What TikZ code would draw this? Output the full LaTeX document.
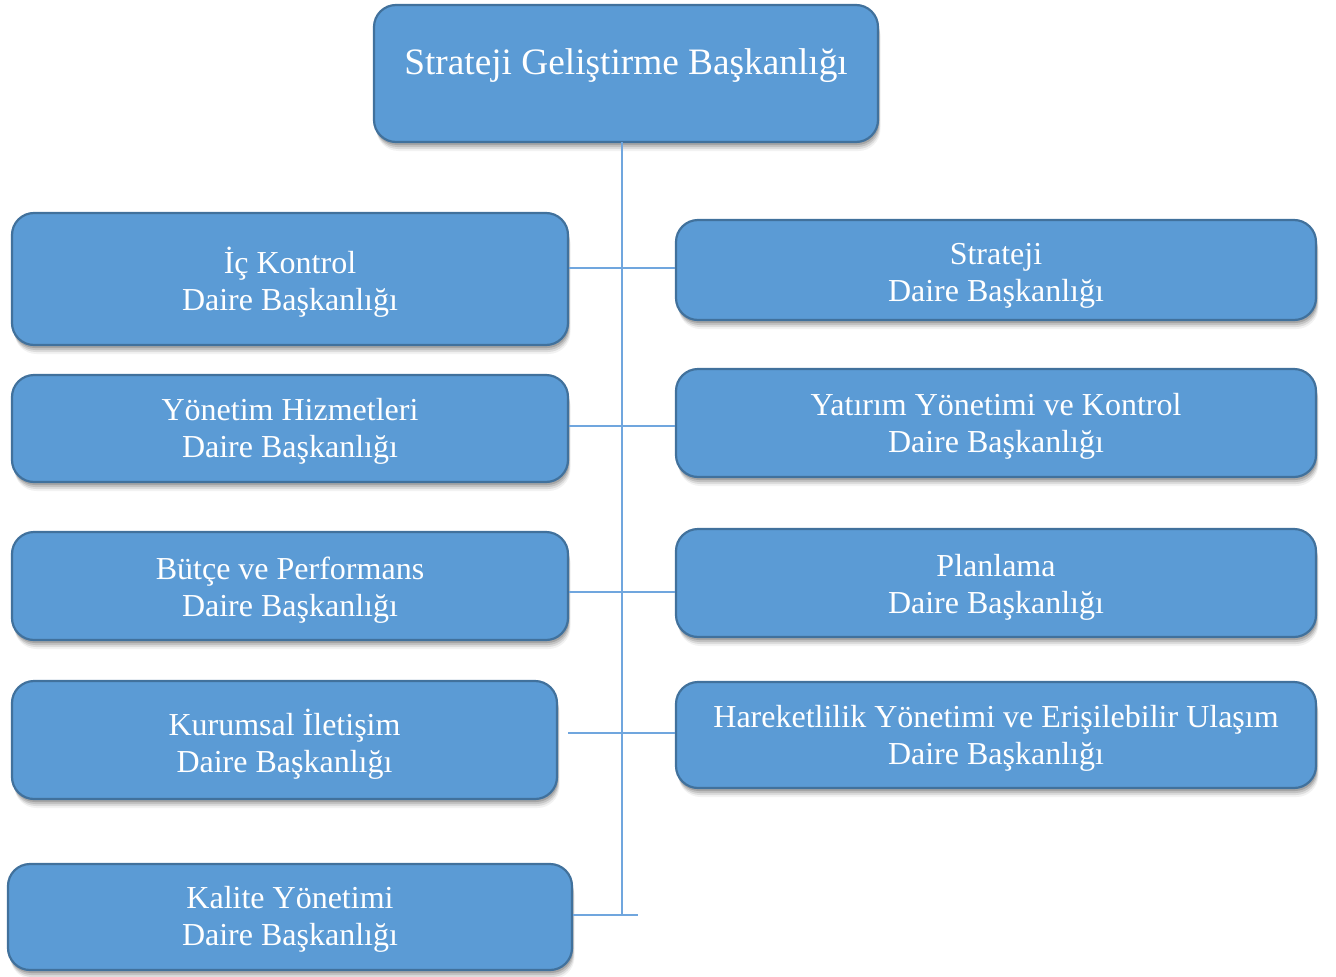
\documentclass[tikz,border=0pt]{standalone}
\usepackage{fontspec}
\setmainfont{Liberation Serif}
\usetikzlibrary{shadows}
\definecolor{boxfill}{HTML}{5B9BD5}
\definecolor{boxline}{HTML}{41719C}
\definecolor{linkc}{RGB}{112,166,222}
\begin{document}
\begin{tikzpicture}[x=1pt,y=-1pt,
  softshadow/.style={
    drop shadow={shadow xshift=1pt,shadow yshift=-3pt,opacity=.15,fill=black},
    drop shadow={shadow xshift=1.5pt,shadow yshift=-5pt,opacity=.12,fill=black},
    drop shadow={shadow xshift=2pt,shadow yshift=-7pt,opacity=.09,fill=black},
    drop shadow={shadow xshift=2.5pt,shadow yshift=-9pt,opacity=.05,fill=black}},
  box/.style={draw=boxline, line width=2.2pt, fill=boxfill, rounded corners=22pt,
    inner sep=0pt, softshadow},
  lbl/.style={text=white, font=\fontsize{32}{37}\selectfont, align=center, inner sep=0pt},
  ttl/.style={text=white, font=\fontsize{37.3}{42}\selectfont, inner sep=0pt},
  link/.style={draw=linkc, line width=1.4pt}]
\useasboundingbox (0,0) rectangle (1336,977);
% top box
\node[box, minimum width=504pt, minimum height=137pt] (top) at (626,73.5) {};
\node[ttl] (toptxt) at (626,66) {Strateji Geliştirme Başkanlığı};
% left column
\node[box, minimum width=556pt, minimum height=132pt] (l1) at (290,279) {};
\node[box, minimum width=556pt, minimum height=107pt] (l2) at (290,428.5) {};
\node[box, minimum width=556pt, minimum height=108pt] (l3) at (290,586) {};
\node[box, minimum width=545pt, minimum height=118pt] (l4) at (284.5,740) {};
\node[box, minimum width=564pt, minimum height=106pt] (l5) at (290,917) {};
% right column
\node[box, minimum width=640pt, minimum height=100pt] (r1) at (996,270) {};
\node[box, minimum width=640pt, minimum height=108pt] (r2) at (996,423) {};
\node[box, minimum width=640pt, minimum height=108pt] (r3) at (996,583) {};
\node[box, minimum width=640pt, minimum height=106pt] (r4) at (996,735) {};
% texts
\node[lbl] (l1t) at (290,282) {İç Kontrol\\Daire Başkanlığı};
\node[lbl] (l2t) at (290,431.5) {Yönetim Hizmetleri\\Daire Başkanlığı};
\node[lbl] (l3t) at (290,590.5) {Bütçe ve Performans\\Daire Başkanlığı};
\node[lbl] (l4t) at (284.5,744) {Kurumsal İletişim\\Daire Başkanlığı};
\node[lbl] (l5t) at (290,919.5) {Kalite Yönetimi\\Daire Başkanlığı};
\node[lbl] (r1t) at (996,275.5) {Strateji\\Daire Başkanlığı};
\node[lbl] (r2t) at (996,426.5) {Yatırım Yönetimi ve Kontrol\\Daire Başkanlığı};
\node[lbl] (r3t) at (996,587.5) {Planlama\\Daire Başkanlığı};
\node[lbl] (r4t) at (996,738.5) {Hareketlilik Yönetimi ve Erişilebilir Ulaşım\\Daire Başkanlığı};
% connectors
\coordinate (sp0) at (622,142);
\coordinate (sp1) at (622,915);
\coordinate (e5) at (638,915);
\coordinate (s4) at (568,733);
\draw[link] (sp0) -- (sp1);
\draw[link] (l1.east |- 0,268) -- (r1.west |- 0,268);
\draw[link] (l2.east |- 0,426) -- (r2.west |- 0,426);
\draw[link] (l3.east |- 0,592) -- (r3.west |- 0,592);
\draw[link] (s4) -- (r4.west |- s4);
\draw[link] (l5.east |- e5) -- (e5);
\end{tikzpicture}
\end{document}
